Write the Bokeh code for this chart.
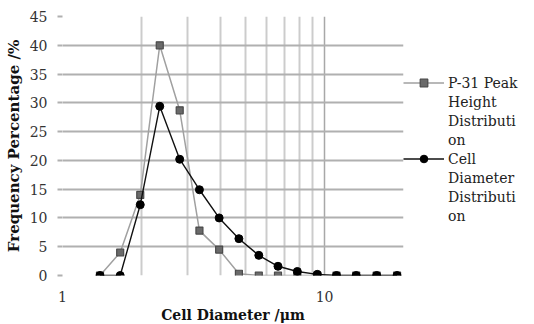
from bokeh.plotting import figure
from bokeh.models import Range1d, Legend, LegendItem, FixedTicker, NumeralTickFormatter
from bokeh.embed import file_html
from bokeh.resources import INLINE

# data
diameter_um = [1.39, 1.66, 1.98, 2.35, 2.80, 3.33, 3.96, 4.71, 5.61, 6.64, 7.87, 9.38, 11.1, 13.2, 15.8, 18.9]
p31_peak_pct = [0, 4.0, 14.0, 40.0, 28.7, 7.8, 4.5, 0.3, 0, 0, 0, 0, 0, 0, 0, 0]
cell_diam_pct = [0, 0, 12.3, 29.4, 20.2, 14.9, 10.0, 6.4, 3.5, 1.6, 0.7, 0.2, 0, 0, 0, 0]
y_ticks = [0, 5, 10, 15, 20, 25, 30, 35, 40, 45]
x_major_ticks = [1, 10]
x_minor_ticks = [2, 3, 4, 5, 6, 7, 8, 9, 20]
legend_lines_p31 = ["P-31 Peak", "Height", "Distributi", "on"]
legend_lines_cell = ["Cell", "Diameter", "Distributi", "on"]

FONT = "DejaVu Serif"

p = figure(frame_width=341, frame_height=259, output_backend="svg", toolbar_location=None,
           x_axis_type="log", x_range=Range1d(1, 20), y_range=Range1d(0, 45),
           min_border_left=62, min_border_top=16, min_border_right=0, min_border_bottom=40)
p.outline_line_color = None
p.background_fill_color = "white"
p.border_fill_color = "white"

xt = FixedTicker(ticks=x_major_ticks, minor_ticks=x_minor_ticks)
yt = FixedTicker(ticks=y_ticks)
p.xaxis.ticker = xt
p.yaxis.ticker = yt
p.xgrid.ticker = xt
p.ygrid.ticker = yt
p.xaxis.formatter = NumeralTickFormatter(format="0")

# grids
p.ygrid.grid_line_color = "#b0b0b0"
p.ygrid.grid_line_width = 2
p.xgrid.grid_line_color = "#a8a8a8"
p.xgrid.grid_line_width = 1.5
p.xgrid.minor_grid_line_color = "#cccccc"
p.xgrid.minor_grid_line_width = 2

# y axis
p.yaxis.axis_line_color = None
p.yaxis.major_tick_line_color = "#b0b0b0"
p.yaxis.major_tick_line_width = 2
p.yaxis.major_tick_out = 5
p.yaxis.major_tick_in = 0
p.yaxis.minor_tick_line_color = None
p.yaxis.major_label_standoff = 10
p.yaxis.major_label_text_font = FONT
p.yaxis.major_label_text_font_size = "14px"
p.yaxis.major_label_text_color = "#333333"
p.yaxis.axis_label = "Frequency Percentage /%"
p.yaxis.axis_label_text_font = FONT
p.yaxis.axis_label_text_font_style = "bold"
p.yaxis.axis_label_text_font_size = "15px"
p.yaxis.axis_label_text_color = "#111111"
p.yaxis.axis_label_standoff = 4

# x axis
p.xaxis.axis_line_color = None
p.xaxis.major_tick_line_color = None
p.xaxis.minor_tick_line_color = None
p.xaxis.major_tick_out = 0
p.xaxis.major_tick_in = 0
p.xaxis.major_label_standoff = 11
p.xaxis.major_label_text_font = FONT
p.xaxis.major_label_text_font_size = "14px"
p.xaxis.major_label_text_color = "#333333"
p.xaxis.axis_label = "Cell Diameter /\u03bcm"
p.xaxis.axis_label_text_font = FONT
p.xaxis.axis_label_text_font_style = "bold"
p.xaxis.axis_label_text_font_size = "14px"
p.xaxis.axis_label_text_color = "#111111"
p.xaxis.axis_label_standoff = 2

# series
l1 = p.line(diameter_um, p31_peak_pct, line_color="#a0a0a0", line_width=1.5)
s1 = p.scatter(diameter_um, p31_peak_pct, marker="square", size=7,
               fill_color="#6a6a6a", line_color="#4a4a4a", line_width=1.2)
l2 = p.line(diameter_um, cell_diam_pct, line_color="#111111", line_width=1.4)
s2 = p.scatter(diameter_um, cell_diam_pct, marker="circle", size=8,
               fill_color="black", line_color="black")

items = [LegendItem(label="", renderers=[]) for _ in range(3)]
items += [LegendItem(label=legend_lines_p31[0], renderers=[l1, s1])]
items += [LegendItem(label=t, renderers=[]) for t in legend_lines_p31[1:]]
items += [LegendItem(label=legend_lines_cell[0], renderers=[l2, s2])]
items += [LegendItem(label=t, renderers=[]) for t in legend_lines_cell[1:]]

legend = Legend(items=items, location="top_left", orientation="vertical")
legend.border_line_color = None
legend.background_fill_alpha = 0
legend.padding = 0
legend.margin = 0
legend.spacing = 0
legend.glyph_width = 41
legend.glyph_height = 19
legend.label_height = 19
legend.label_standoff = 4
legend.label_text_font = FONT
legend.label_text_font_size = "14px"
legend.label_text_color = "#222222"
p.add_layout(legend, "right")

open("out.html", "w").write(file_html(p, INLINE))
